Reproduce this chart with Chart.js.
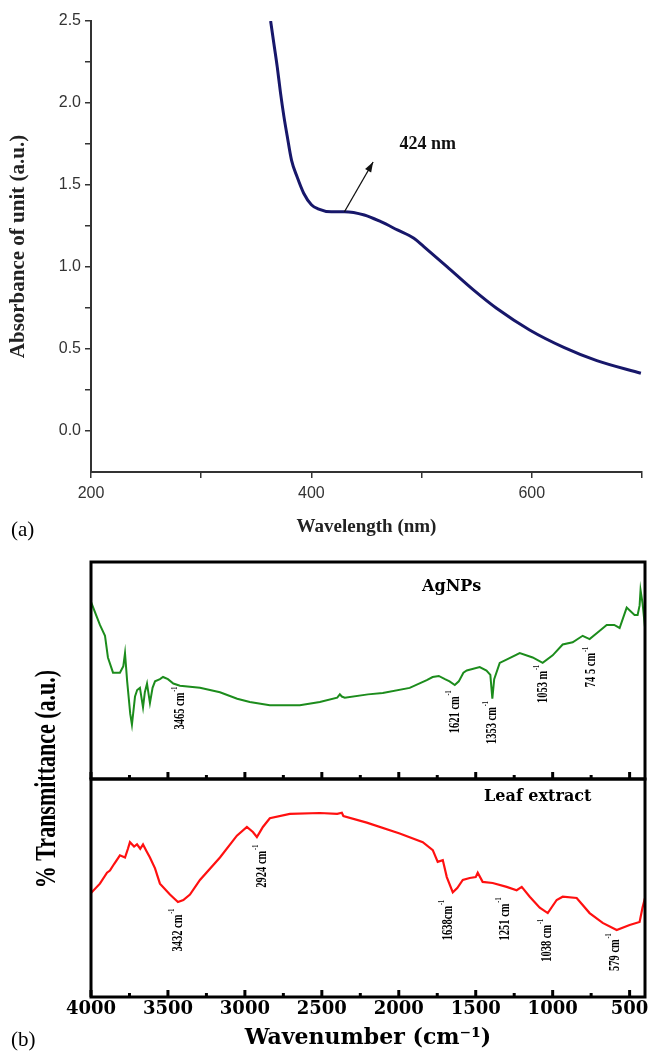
<!DOCTYPE html>
<html>
<head>
<meta charset="utf-8">
<script src="https://cdn.jsdelivr.net/npm/chart.js@4.4.1/dist/chart.umd.min.js"></script>
<style>
  html, body { margin: 0; padding: 0; background: #fff; }
  #wrap { position: relative; width: 648px; height: 1051px; }
  #wrap canvas { position: absolute; left: 0; top: 0; }
</style>
</head>
<body>
<div id="wrap">
  <canvas id="uvChart" width="648" height="1051"></canvas>
  <canvas id="agChart" width="648" height="1051"></canvas>
  <canvas id="leafChart" width="648" height="1051"></canvas>
</div>
<script>
// (a) UV-Vis spectrum
const uvWavelength = [363, 366, 369, 372, 375, 378, 382, 387, 393, 400, 406, 418, 430, 448, 463, 478, 493, 502, 523, 547, 568, 598, 629, 659, 699];
const uvAbsorbance = [2.50, 2.36, 2.22, 2.06, 1.92, 1.80, 1.65, 1.55, 1.45, 1.38, 1.355, 1.337, 1.337, 1.317, 1.276, 1.226, 1.175, 1.124, 1.002, 0.860, 0.748, 0.616, 0.510, 0.429, 0.352];
const uvXTicks = [200, 300, 400, 500, 600, 700];
const uvXLabels = [200, 400, 600];
const uvYTicks = [0, 0.25, 0.5, 0.75, 1.0, 1.25, 1.5, 1.75, 2.0, 2.25, 2.5];

// (b) FTIR spectra, transmittance in arbitrary units (0-100 per panel)
const agWavenumber = [4000, 3942, 3909, 3890, 3857, 3812, 3790, 3779, 3765, 3745, 3734, 3714, 3700, 3682, 3662, 3650, 3636, 3617, 3600, 3584, 3552, 3532, 3500, 3465, 3422, 3292, 3162, 3050, 2968, 2838, 2643, 2513, 2400, 2383, 2370, 2351, 2200, 2104, 1929, 1818, 1780, 1740, 1700, 1670, 1636, 1610, 1580, 1558, 1474, 1430, 1405, 1392, 1380, 1344, 1300, 1214, 1130, 1065, 1000, 935, 870, 805, 760, 700, 649, 600, 565, 519, 468, 448, 435, 429, 416, 400];
const agTransmittance = [81.6, 71, 66, 56, 49, 49, 52, 58, 45, 30, 25, 38, 41, 42, 33, 40, 44, 35, 42, 45, 46, 47, 46, 44, 43, 42, 40, 37, 35.5, 34, 34, 35.5, 37.5, 39, 38, 37.5, 39, 39.6, 42, 45.6, 47, 47.5, 46, 45, 43.3, 45, 49, 50, 51.6, 50, 48, 37, 46, 53.5, 55, 58, 56, 53.5, 57, 62, 63, 66, 64.5, 68, 71, 71, 69.6, 79, 75.6, 75.6, 80, 87, 81, 70];
const leafWavenumber = [4000, 3942, 3896, 3877, 3850, 3812, 3779, 3760, 3747, 3720, 3701, 3680, 3662, 3640, 3617, 3584, 3552, 3487, 3435, 3400, 3357, 3292, 3162, 3052, 2987, 2948, 2922, 2900, 2883, 2838, 2708, 2513, 2400, 2370, 2360, 2208, 1994, 1844, 1779, 1747, 1714, 1688, 1649, 1620, 1584, 1539, 1500, 1487, 1455, 1390, 1299, 1234, 1201, 1149, 1084, 1032, 974, 935, 844, 760, 675, 584, 500, 435, 416, 400];
const leafTransmittance = [47.7, 52, 57, 58, 61, 65, 64, 68, 71, 69, 70, 68, 70, 67, 64, 59, 52, 47, 43.6, 44.5, 47, 53.7, 64, 74, 78, 75.7, 73.4, 76, 78, 82, 84, 84.4, 84, 84.5, 83, 80, 75, 71, 67.4, 62, 62.8, 55, 48, 50, 53.7, 54.6, 55, 57, 52.8, 52.3, 50.5, 49, 50.5, 46, 41, 38.5, 44.5, 46, 45.4, 38.5, 34, 30.7, 33, 34.4, 41, 45.4];
const ftirTicks = [4000, 3500, 3000, 2500, 2000, 1500, 1000, 500];
const ftirMinorTicks = [3750, 3250, 2750, 2250, 1750, 1250, 750];

// peak labels: [wavenumber, level, text]
const agPeaks = [[3420, 32.7, '3465 cm'], [1636, 31, '1621 cm'], [1396, 26, '1353 cm'], [1065, 43.8, '1053 m'], [747, 51.6, '74 5 cm']];
const leafPeaks = [[3435, 30.7, '3432 cm'], [2890, 60, '2924 cm'], [1682, 35.3, '1638cm'], [1312, 35.8, '1251 cm'], [1039, 26, '1038 cm'], [597, 20.6, '579 cm']];

const toPoints = (xs, ys) => xs.map((x, i) => ({ x: x, y: ys[i] }));

// rotated, condensed peak label with a "-1" superscript
function drawPeakLabel(ctx, x, y, text) {
    ctx.save();
    ctx.translate(x, y);
    ctx.rotate(-Math.PI / 2);
    ctx.scale(0.7, 1);
    ctx.font = 'bold 15px "Liberation Serif"';
    const w = ctx.measureText(text).width;
    ctx.font = 'bold 9px "Liberation Serif"';
    const sw = ctx.measureText('-1').width;
    const start = -(w + sw + 1) / 2;
    ctx.fillStyle = '#000';
    ctx.textAlign = 'left';
    ctx.textBaseline = 'middle';
    ctx.font = 'bold 15px "Liberation Serif"';
    ctx.fillText(text, start, 0);
    ctx.font = 'bold 9px "Liberation Serif"';
    ctx.fillText('-1', start + w + 1, -6);
    ctx.restore();
}

// arrow, "424 nm" and panel letters
const uvNotes = {
    id: 'uvNotes',
    afterDraw(chart) {
        const { ctx, scales: { x, y } } = chart;
        const x0 = x.getPixelForValue(430), y0 = y.getPixelForValue(1.337);
        const x1 = x.getPixelForValue(456), y1 = y.getPixelForValue(1.64);
        ctx.save();
        ctx.strokeStyle = '#111';
        ctx.fillStyle = '#111';
        ctx.lineWidth = 1.3;
        ctx.beginPath();
        ctx.moveTo(x0, y0);
        ctx.lineTo(x1, y1);
        ctx.stroke();
        const ang = Math.atan2(y1 - y0, x1 - x0);
        ctx.beginPath();
        ctx.moveTo(x1, y1);
        ctx.lineTo(x1 - 10 * Math.cos(ang) + 3.5 * Math.sin(ang), y1 - 10 * Math.sin(ang) - 3.5 * Math.cos(ang));
        ctx.lineTo(x1 - 10 * Math.cos(ang) - 3.5 * Math.sin(ang), y1 - 10 * Math.sin(ang) + 3.5 * Math.cos(ang));
        ctx.closePath();
        ctx.fill();

        ctx.font = 'bold 18px "Liberation Serif"';
        ctx.textBaseline = 'middle';
        ctx.textAlign = 'left';
        ctx.fillText('424 nm', x.getPixelForValue(480), y.getPixelForValue(1.75));

        ctx.font = '21px "Liberation Serif"';
        ctx.fillStyle = '#000';
        ctx.fillText('(a)', 11, 530);
        ctx.fillText('(b)', 11, 1040);
        ctx.restore();
    }
};

// box, inward ticks, name and peak labels of an FTIR panel
const ftirFrame = {
    id: 'ftirFrame',
    afterDraw(chart, args, opts) {
        const { ctx, chartArea: a, scales: { x, y } } = chart;
        ctx.save();
        ctx.strokeStyle = '#000';
        ctx.lineWidth = 3;
        ctx.strokeRect(a.left, a.top, a.right - a.left, a.bottom - a.top);
        ftirTicks.forEach(v => {
            const px = x.getPixelForValue(v);
            ctx.beginPath();
            ctx.moveTo(px, a.bottom);
            ctx.lineTo(px, a.bottom - 7);
            ctx.stroke();
        });
        ftirMinorTicks.forEach(v => {
            const px = x.getPixelForValue(v);
            ctx.beginPath();
            ctx.moveTo(px, a.bottom);
            ctx.lineTo(px, a.bottom - 4);
            ctx.stroke();
        });

        ctx.fillStyle = '#000';
        ctx.font = 'bold 16px "DejaVu Serif"';
        ctx.textAlign = 'center';
        ctx.textBaseline = 'middle';
        ctx.fillText(opts.name, x.getPixelForValue(opts.nameAt[0]), y.getPixelForValue(opts.nameAt[1]));

        opts.peaks.forEach(p => drawPeakLabel(ctx, x.getPixelForValue(p[0]), y.getPixelForValue(p[1]), p[2]));

        if (opts.yTitle) {
            ctx.save();
            ctx.translate(48, a.bottom);
            ctx.rotate(-Math.PI / 2);
            ctx.scale(1, 1.3);
            ctx.font = 'bold 22px "Liberation Serif"';
            ctx.textAlign = 'center';
            ctx.textBaseline = 'middle';
            ctx.fillText(opts.yTitle, 0, 0);
            ctx.restore();
        }
        ctx.restore();
    }
};

Chart.defaults.font.family = '"Liberation Sans", Arial, sans-serif';

// (a)
new Chart(document.getElementById('uvChart'), {
    type: 'line',
    data: {
        datasets: [{
            data: toPoints(uvWavelength, uvAbsorbance),
            borderColor: '#17176a',
            borderWidth: 3,
            pointRadius: 0,
            cubicInterpolationMode: 'monotone',
            fill: false
        }]
    },
    options: {
        responsive: false,
        animation: false,
        devicePixelRatio: 1,
        layout: { padding: { top: 21, right: 2, left: 0, bottom: 511 } },
        plugins: { legend: { display: false }, tooltip: { enabled: false } },
        scales: {
            x: {
                type: 'linear',
                min: 200,
                max: 700,
                afterBuildTicks: s => { s.ticks = uvXTicks.map(v => ({ value: v })); },
                afterFit: s => { s.height = 68; },
                grid: { drawOnChartArea: false, tickLength: 6, color: '#333', lineWidth: 1.5 },
                border: { color: '#333', width: 2 },
                ticks: {
                    padding: 6,
                    color: '#333',
                    font: { size: 16 },
                    maxRotation: 0,
                    autoSkip: false,
                    callback: v => uvXLabels.includes(v) ? String(v) : ''
                },
                title: {
                    display: true,
                    text: 'Wavelength (nm)',
                    color: '#222',
                    font: { family: '"Liberation Serif"', size: 19, weight: 'bold' },
                    padding: { top: 0, bottom: 2 }
                }
            },
            y: {
                min: -0.25,
                max: 2.5,
                afterBuildTicks: s => { s.ticks = uvYTicks.map(v => ({ value: v })); },
                afterFit: s => { s.width = 91; },
                grid: { drawOnChartArea: false, tickLength: 6, color: '#333', lineWidth: 1.5 },
                border: { color: '#333', width: 2 },
                ticks: {
                    padding: 4,
                    color: '#333',
                    font: { size: 16 },
                    autoSkip: false,
                    callback: v => Math.abs(v * 2 - Math.round(v * 2)) < 1e-9 ? v.toFixed(1) : ''
                },
                title: {
                    display: true,
                    text: 'Absorbance of unit (a.u.)',
                    color: '#222',
                    font: { family: '"Liberation Serif"', size: 21, weight: 'bold' },
                    padding: { top: 6, bottom: 0 }
                }
            }
        }
    },
    plugins: [uvNotes]
});

// (b) upper panel: AgNPs
new Chart(document.getElementById('agChart'), {
    type: 'line',
    data: {
        datasets: [{
            data: toPoints(agWavenumber, agTransmittance),
            borderColor: '#1c8c1c',
            borderWidth: 2,
            pointRadius: 0,
            tension: 0,
            fill: false
        }]
    },
    options: {
        responsive: false,
        animation: false,
        devicePixelRatio: 1,
        layout: { padding: { top: 562, right: 3, left: 91, bottom: 272 } },
        plugins: {
            legend: { display: false },
            tooltip: { enabled: false },
            ftirFrame: { name: 'AgNPs', nameAt: [1656, 88.5], peaks: agPeaks, yTitle: '% Transmittance (a.u.)' }
        },
        scales: {
            x: { type: 'linear', min: 400, max: 4000, reverse: true, display: false },
            y: { min: 0, max: 100, display: false }
        }
    },
    plugins: [ftirFrame]
});

// (b) lower panel: leaf extract
new Chart(document.getElementById('leafChart'), {
    type: 'line',
    data: {
        datasets: [{
            data: toPoints(leafWavenumber, leafTransmittance),
            borderColor: '#ff1010',
            borderWidth: 2.2,
            pointRadius: 0,
            tension: 0,
            fill: false
        }]
    },
    options: {
        responsive: false,
        animation: false,
        devicePixelRatio: 1,
        layout: { padding: { top: 779, right: 3, left: 91, bottom: 0 } },
        plugins: {
            legend: { display: false },
            tooltip: { enabled: false },
            ftirFrame: { name: 'Leaf extract', nameAt: [1097, 91.7], peaks: leafPeaks }
        },
        scales: {
            x: {
                type: 'linear',
                min: 400,
                max: 4000,
                reverse: true,
                // ascending order keeps the edge labels from adding side padding
                afterBuildTicks: s => { s.ticks = ftirTicks.slice().sort((p, q) => p - q).map(v => ({ value: v })); },
                afterFit: s => { s.height = 54; s.paddingLeft = 0; s.paddingRight = 0; },
                grid: { display: false, drawTicks: false },
                border: { display: false },
                ticks: {
                    padding: 2,
                    color: '#000',
                    maxRotation: 0,
                    autoSkip: false,
                    font: { family: '"DejaVu Serif"', size: 18, weight: 'bold' },
                    callback: v => String(v)
                },
                title: {
                    display: true,
                    text: 'Wavenumber (cm⁻¹)',
                    color: '#000',
                    font: { family: '"DejaVu Serif"', size: 22, weight: 'bold' },
                    padding: { top: 0, bottom: 0 }
                }
            },
            y: { min: 0, max: 100, display: false }
        }
    },
    plugins: [ftirFrame]
});
</script>
</body>
</html>
